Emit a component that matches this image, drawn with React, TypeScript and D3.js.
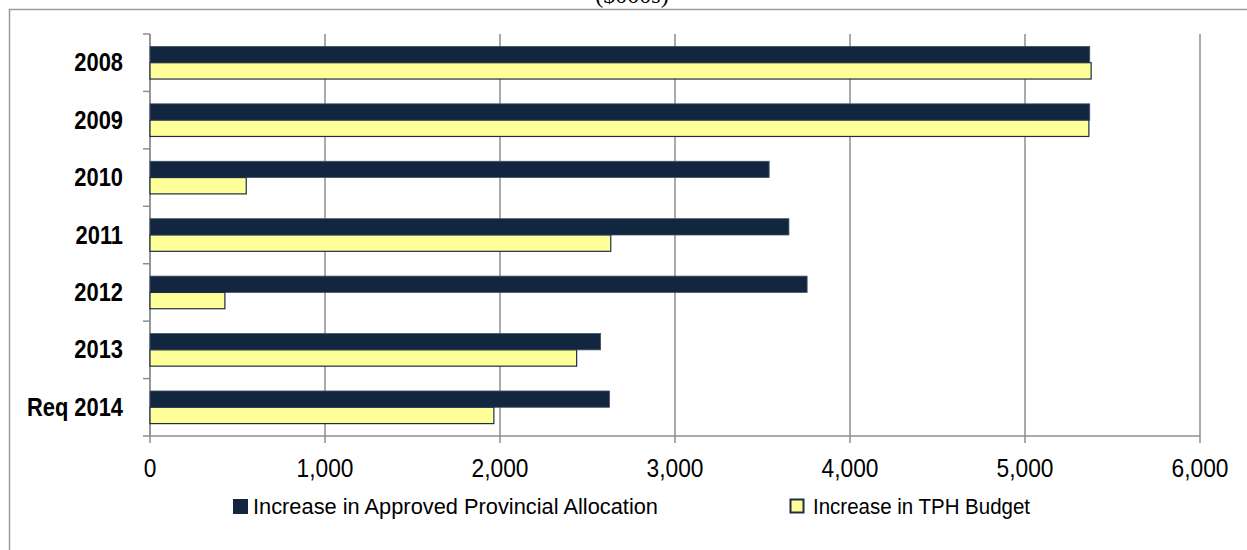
import * as d3 from 'd3';

const categories = ['2008', '2009', '2010', '2011', '2012', '2013', 'Req 2014'];
const seriesNames = ['Increase in Approved Provincial Allocation', 'Increase in TPH Budget'];
const provincialValues = [5370, 5370, 3538, 3651, 3755, 2575, 2626];
const tphValues = [5378, 5365, 550, 2633, 428, 2438, 1965];
const xTicks = [0, 1000, 2000, 3000, 4000, 5000, 6000];

const WIDTH = 1247;
const HEIGHT = 550;
const PLOT = { left: 150, right: 1200, top: 34, bottom: 436 };

const NAVY = '#13263f';
const YELLOW = '#ffff99';
const GRID = '#8e8e8e';

export default function App() {
  const x = d3.scaleLinear().domain([0, 6000]).range([PLOT.left, PLOT.right]);
  const y = d3
    .scaleBand<string>()
    .domain(categories)
    .range([PLOT.top, PLOT.bottom])
    .paddingInner(0)
    .paddingOuter(0);
  // two bars per category, centred in the band
  const inner = d3
    .scaleBand<string>()
    .domain(['prov', 'tph'])
    .range([0, y.bandwidth()])
    .paddingInner(0)
    .paddingOuter(0.76);

  const fmt = d3.format(',');
  const boundaries = categories.map(c => y(c) ?? 0).concat([PLOT.bottom]);

  return (
    <svg
      width={WIDTH}
      height={HEIGHT}
      style={{ position: 'absolute', left: 0, top: 0, background: '#fff' }}
      fontFamily="'Liberation Sans', Arial, sans-serif"
    >
      {/* chart frame, open to the right and bottom */}
      <rect x={9.5} y={9.5} width={1400} height={700} fill="none" stroke="#9a9a9a" strokeWidth={1.5} />

      {/* title fragment */}
      <text
        x={632}
        y={3}
        textAnchor="middle"
        fontFamily="'Liberation Serif', 'Times New Roman', serif"
        fontSize={24}
        fill="#000"
      >
        ($000s)
      </text>

      {/* vertical gridlines + bottom ticks */}
      {xTicks.map(t => (
        <line key={`g-${t}`} x1={x(t)} x2={x(t)} y1={PLOT.top} y2={PLOT.bottom + 7} stroke={GRID} strokeWidth={1.5} />
      ))}

      {/* category axis */}
      <line x1={PLOT.left} x2={PLOT.left} y1={PLOT.top} y2={PLOT.bottom} stroke={GRID} strokeWidth={1.5} />
      {boundaries.map((b, i) => (
        <line key={`ct-${i}`} x1={PLOT.left - 7} x2={PLOT.left} y1={b} y2={b} stroke={GRID} strokeWidth={1.5} />
      ))}
      <line x1={PLOT.left} x2={PLOT.right} y1={PLOT.bottom} y2={PLOT.bottom} stroke={GRID} strokeWidth={1.5} />

      {/* bars */}
      {categories.map((c, i) => {
        const y0 = y(c) ?? 0;
        const h = inner.bandwidth();
        return (
          <g key={`bars-${c}`}>
            <rect
              x={x(0)}
              y={y0 + (inner('prov') ?? 0)}
              width={x(provincialValues[i]) - x(0)}
              height={h}
              fill={NAVY}
              stroke="#44526a"
              strokeWidth={0.8}
            />
            <rect
              x={x(0)}
              y={y0 + (inner('tph') ?? 0)}
              width={x(tphValues[i]) - x(0)}
              height={h}
              fill={YELLOW}
              stroke="#1d2d44"
              strokeWidth={1.2}
            />
          </g>
        );
      })}

      {/* category labels */}
      {categories.map(c => {
        const cy = (y(c) ?? 0) + y.bandwidth() / 2 + 8.5;
        return (
          <text
            key={`lab-${c}`}
            transform={`translate(123,${cy}) scale(0.875,1)`}
            textAnchor="end"
            fontSize={25}
            fontWeight="bold"
            fill="#000"
          >
            {c}
          </text>
        );
      })}

      {/* value axis labels */}
      {xTicks.map(t => (
        <text
          key={`xl-${t}`}
          transform={`translate(${x(t)},477) scale(0.91,1)`}
          textAnchor="middle"
          fontSize={25}
          fill="#000"
        >
          {fmt(t)}
        </text>
      ))}

      {/* legend */}
      <rect x={233} y={499} width={15} height={15} fill={NAVY} />
      <text x={253} y={514} fontSize={22} textLength={405} lengthAdjust="spacingAndGlyphs" fill="#000">
        {seriesNames[0]}
      </text>
      <rect x={790.5} y={499.5} width={13} height={13} fill={YELLOW} stroke="#1d2d44" strokeWidth={2} />
      <text x={813} y={514} fontSize={22} textLength={217} lengthAdjust="spacingAndGlyphs" fill="#000">
        {seriesNames[1]}
      </text>
    </svg>
  );
}
